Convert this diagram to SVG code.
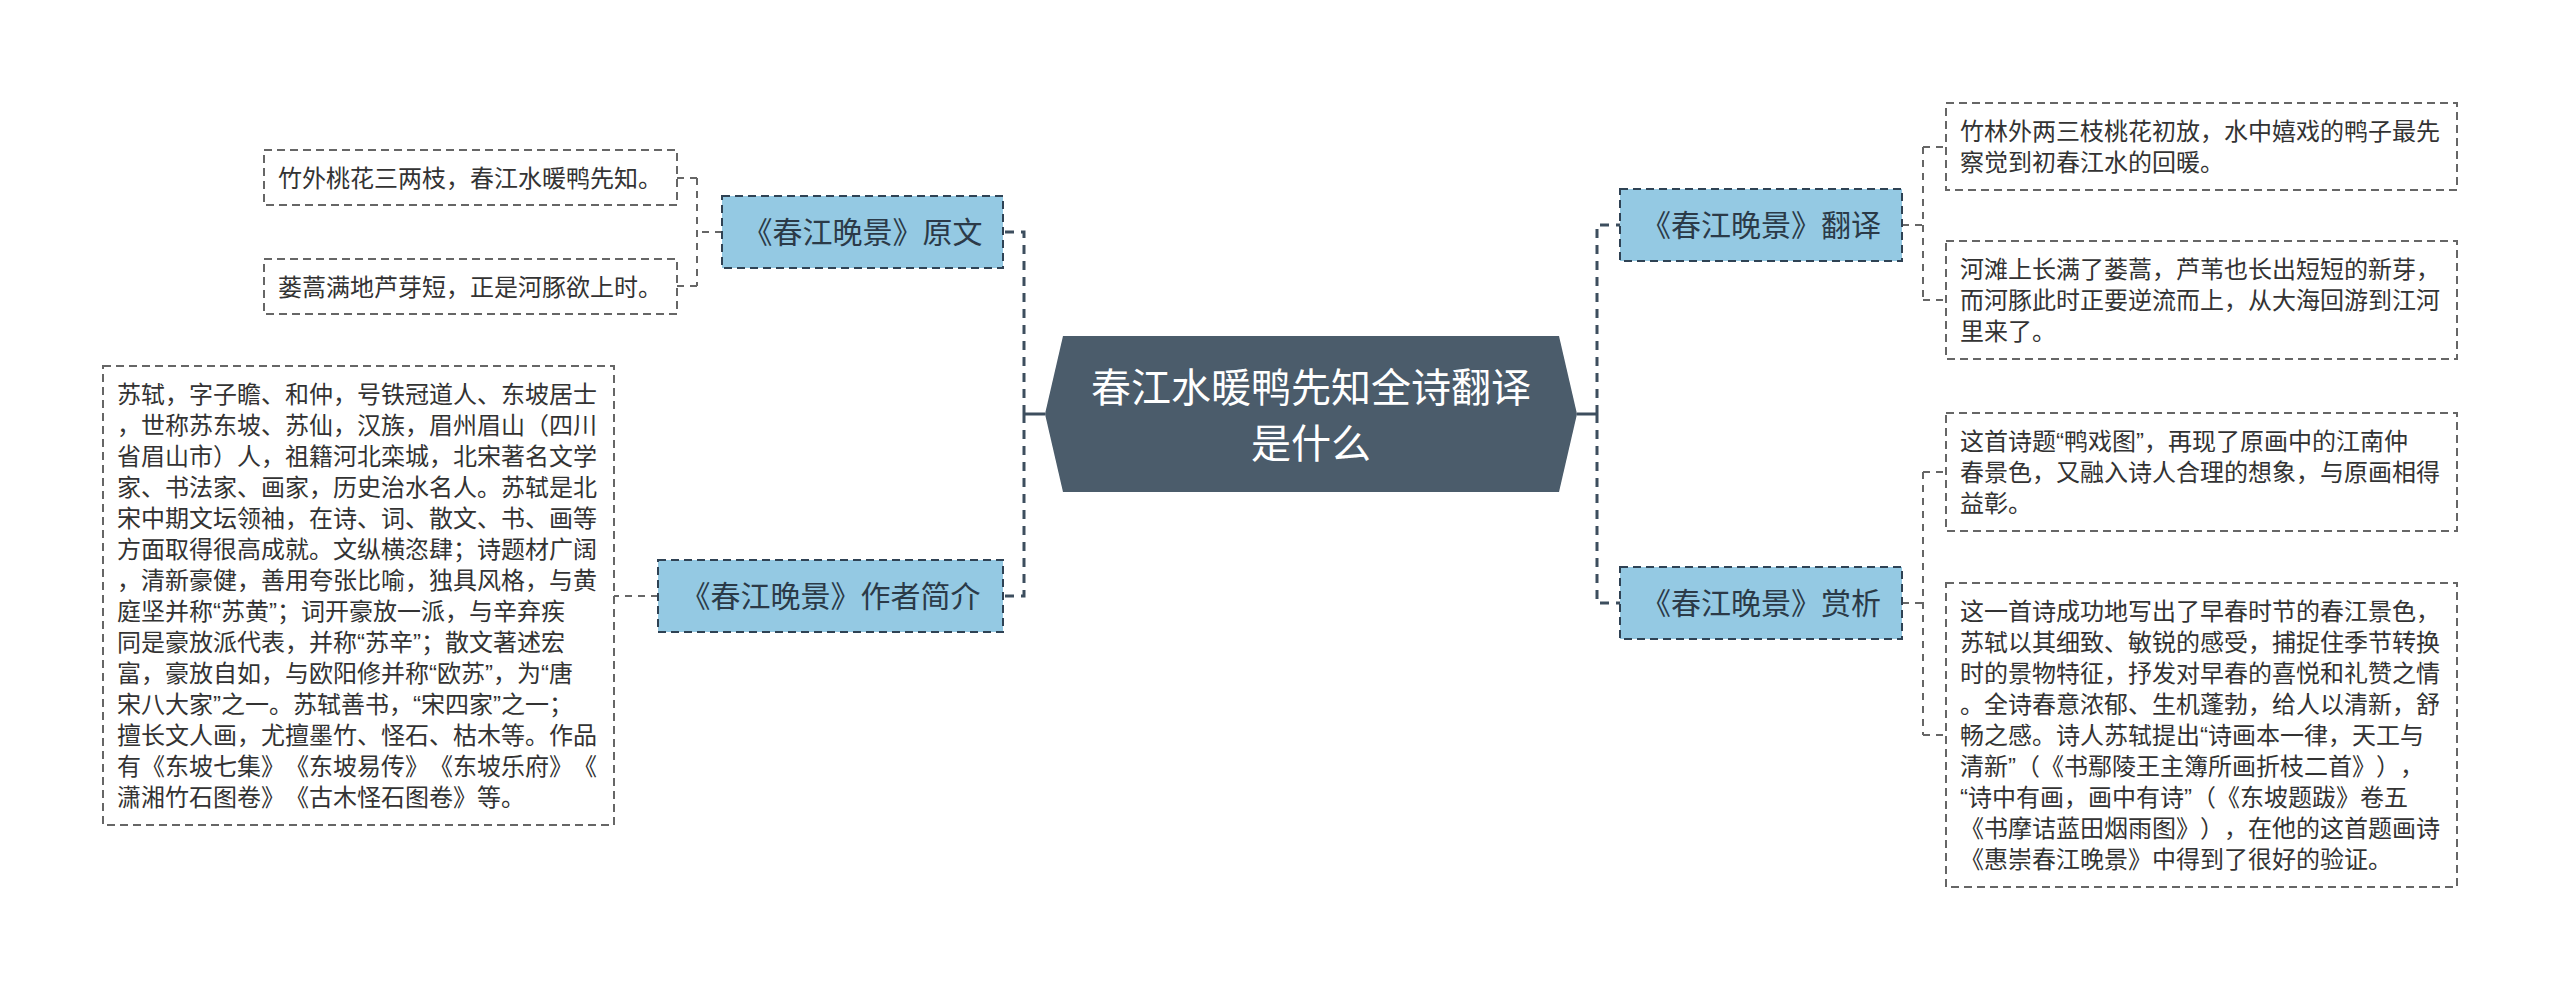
<svg xmlns="http://www.w3.org/2000/svg" width="2560" height="992" viewBox="0 0 2560 992">
<style>
text{font-family:"Liberation Sans","Noto Sans CJK SC",sans-serif;text-spacing-trim:space-all}
.root{fill:#4b5c6b}
.roott{fill:#ffffff;font-size:40px;text-anchor:middle}
.br{fill:#94c9e3;stroke:#2f4254;stroke-width:2;stroke-dasharray:8 5}
.brt{fill:#2b3a48;font-size:30px;text-anchor:middle}
.lf{fill:#ffffff;stroke:#666666;stroke-width:2;stroke-dasharray:8 5}
.lft{fill:#333333;font-size:24px}
.main{stroke:#3d4e5e;stroke-width:3;fill:none}
.mdash{stroke:#3d4e5e;stroke-width:3;fill:none;stroke-dasharray:9 7}
.sub{stroke:#666666;stroke-width:2;fill:none;stroke-dasharray:7 6}
</style>
<rect width="2560" height="992" fill="#ffffff"/>
<g id="connectors">
<path class="main" d="M1045 414H1024M1577 414H1597"/>
<path class="mdash" d="M1024 414V232H1003M1024 414V596H1003M1597 414V225H1620M1597 414V603H1620"/>
<path class="sub" d="M722 232H697M697 178V286M697 178H677M697 286H677"/>
<path class="sub" d="M658 596H614"/>
<path class="sub" d="M1902 225H1923M1923 147V300M1923 147H1946M1923 300H1946"/>
<path class="sub" d="M1902 603H1923M1923 472V735M1923 472H1946M1923 735H1946"/>
</g>
<g id="root">
<polygon class="root" points="1063,336 1559,336 1577,414 1559,492 1063,492 1045,414"/>
<text class="roott" x="1311" y="402">春江水暖鸭先知全诗翻译</text>
<text class="roott" x="1311" y="458">是什么</text>
</g>
<g id="b-yuanwen">
<rect class="br" x="722" y="196" width="281" height="72"/>
<text class="brt" x="862.5" y="243">《春江晚景》原文</text>
</g>
<g id="b-zuozhe">
<rect class="br" x="658" y="560" width="345" height="72"/>
<text class="brt" x="830.5" y="607">《春江晚景》作者简介</text>
</g>
<g id="b-fanyi">
<rect class="br" x="1620" y="189" width="282" height="72"/>
<text class="brt" x="1761" y="236">《春江晚景》翻译</text>
</g>
<g id="b-shangxi">
<rect class="br" x="1620" y="567" width="282" height="72"/>
<text class="brt" x="1761" y="614">《春江晚景》赏析</text>
</g>
<g id="l1">
<rect class="lf" x="264" y="150" width="413" height="55"/>
<text class="lft" x="278" y="186.5">竹外桃花三两枝，春江水暖鸭先知。</text>
</g>
<g id="l2">
<rect class="lf" x="264" y="259" width="413" height="55"/>
<text class="lft" x="278" y="295.5">蒌蒿满地芦芽短，正是河豚欲上时。</text>
</g>
<g id="bio">
<rect class="lf" x="103" y="366" width="511" height="459"/>
<text class="lft">
<tspan x="117" y="403">苏轼，字子瞻、和仲，号铁冠道人、东坡居士</tspan>
<tspan x="117" y="434">，世称苏东坡、苏仙，汉族，眉州眉山（四川</tspan>
<tspan x="117" y="465">省眉山市）人，祖籍河北栾城，北宋著名文学</tspan>
<tspan x="117" y="496">家、书法家、画家，历史治水名人。苏轼是北</tspan>
<tspan x="117" y="527">宋中期文坛领袖，在诗、词、散文、书、画等</tspan>
<tspan x="117" y="558">方面取得很高成就。文纵横恣肆；诗题材广阔</tspan>
<tspan x="117" y="589">，清新豪健，善用夸张比喻，独具风格，与黄</tspan>
<tspan x="117" y="620">庭坚并称“苏黄”；词开豪放一派，与辛弃疾</tspan>
<tspan x="117" y="651">同是豪放派代表，并称“苏辛”；散文著述宏</tspan>
<tspan x="117" y="682">富，豪放自如，与欧阳修并称“欧苏”，为“唐</tspan>
<tspan x="117" y="713">宋八大家”之一。苏轼善书，“宋四家”之一；</tspan>
<tspan x="117" y="744">擅长文人画，尤擅墨竹、怪石、枯木等。作品</tspan>
<tspan x="117" y="775">有《东坡七集》《东坡易传》《东坡乐府》《</tspan>
<tspan x="117" y="806">潇湘竹石图卷》《古木怪石图卷》等。</tspan>
</text>
</g>
<g id="t1">
<rect class="lf" x="1946" y="103" width="511" height="87"/>
<text class="lft">
<tspan x="1960" y="140">竹林外两三枝桃花初放，水中嬉戏的鸭子最先</tspan>
<tspan x="1960" y="171">察觉到初春江水的回暖。</tspan>
</text>
</g>
<g id="t2">
<rect class="lf" x="1946" y="241" width="511" height="118"/>
<text class="lft">
<tspan x="1960" y="278">河滩上长满了蒌蒿，芦苇也长出短短的新芽，</tspan>
<tspan x="1960" y="309">而河豚此时正要逆流而上，从大海回游到江河</tspan>
<tspan x="1960" y="340">里来了。</tspan>
</text>
</g>
<g id="a1">
<rect class="lf" x="1946" y="413" width="511" height="118"/>
<text class="lft">
<tspan x="1960" y="450">这首诗题“鸭戏图”，再现了原画中的江南仲</tspan>
<tspan x="1960" y="481">春景色，又融入诗人合理的想象，与原画相得</tspan>
<tspan x="1960" y="512">益彰。</tspan>
</text>
</g>
<g id="a2">
<rect class="lf" x="1946" y="583" width="511" height="304"/>
<text class="lft">
<tspan x="1960" y="620">这一首诗成功地写出了早春时节的春江景色，</tspan>
<tspan x="1960" y="651">苏轼以其细致、敏锐的感受，捕捉住季节转换</tspan>
<tspan x="1960" y="682">时的景物特征，抒发对早春的喜悦和礼赞之情</tspan>
<tspan x="1960" y="713">。全诗春意浓郁、生机蓬勃，给人以清新，舒</tspan>
<tspan x="1960" y="744">畅之感。诗人苏轼提出“诗画本一律，天工与</tspan>
<tspan x="1960" y="775">清新”（《书鄢陵王主簿所画折枝二首》），</tspan>
<tspan x="1960" y="806">“诗中有画，画中有诗”（《东坡题跋》卷五</tspan>
<tspan x="1960" y="837">《书摩诘蓝田烟雨图》），在他的这首题画诗</tspan>
<tspan x="1960" y="868">《惠崇春江晚景》中得到了很好的验证。</tspan>
</text>
</g>
</svg>
